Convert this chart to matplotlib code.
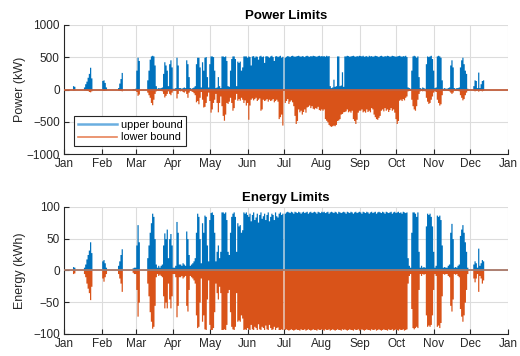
import matplotlib
matplotlib.use('Agg')
import matplotlib.pyplot as plt
from matplotlib.lines import Line2D
import numpy as np

plt.rcParams['font.family'] = ['Liberation Sans', 'DejaVu Sans']

# daily peak values (Jan 1 .. Dec 31), one line per month
power_upper = [
    0, 0, 0, 0, 0, 0, 0, 60, 50, 0, 0, 0, 0, 0, 0, 0, 40, 90, 130, 190, 250, 345, 180, 0, 0, 0, 0, 0, 0, 0, 0,
    140, 150, 110, 40, 0, 0, 0, 0, 0, 0, 0, 0, 0, 30, 100, 170, 265, 0, 0, 0, 0, 0, 0, 0, 0, 15, 15, 20,
    300, 500, 450, 0, 0, 0, 0, 0, 0, 150, 300, 470, 520, 530, 520, 380, 60, 20, 30, 25, 30, 40, 250, 430, 380, 300, 60, 400, 460, 350, 20,
    20, 30, 500, 380, 30, 30, 20, 30, 40, 30, 460, 400, 200, 30, 20, 30, 40, 60, 400, 500, 500, 350, 40, 430, 300, 500, 510, 200, 40, 400,
    520, 520, 510, 300, 30, 40, 200, 60, 30, 520, 520, 510, 520, 450, 60, 50, 300, 480, 520, 520, 480, 60, 440, 420, 440, 300, 350, 520, 520, 520, 500,
    520, 510, 380, 520, 525, 500, 520, 515, 470, 520, 530, 510, 520, 420, 520, 525, 515, 500, 520, 530, 510, 450, 520, 525, 510, 520, 530, 500, 515, 0,
    500, 515, 525, 520, 510, 525, 530, 520, 515, 520, 525, 530, 520, 515, 525, 520, 510, 525, 530, 520, 515, 525, 520, 530, 525, 520, 515, 525, 530, 520, 525,
    520, 525, 515, 530, 520, 525, 60, 30, 40, 160, 50, 60, 520, 520, 60, 70, 275, 50, 520, 520, 530, 525, 515, 520, 525, 530, 520, 515, 525, 520, 530,
    525, 520, 530, 515, 520, 525, 510, 530, 520, 525, 515, 520, 530, 525, 520, 510, 525, 530, 520, 515, 525, 520, 530, 525, 515, 520, 530, 525, 520, 515,
    520, 525, 530, 520, 515, 525, 520, 530, 510, 40, 30, 20, 300, 520, 530, 520, 500, 520, 200, 30, 20, 40, 30, 20, 400, 520, 510, 520, 530, 480, 300,
    30, 40, 520, 530, 520, 500, 150, 20, 30, 20, 20, 30, 40, 380, 460, 350, 30, 20, 30, 30, 40, 350, 460, 500, 400, 300, 250, 20, 0, 0,
    0, 0, 60, 150, 140, 30, 270, 30, 90, 140, 150, 0, 0, 0, 0, 0, 0, 0, 0, 0, 0, 0, 0, 0, 0, 0, 0, 0, 0, 0, 0,
]

power_lower = [
    0, 0, 0, 0, 0, 0, 0, -5, -5, 0, 0, 0, 0, 0, 0, 0, -5, -5, -10, -15, -30, -35, -20, 0, 0, 0, 0, 0, 0, 0, 0,
    -10, -15, -10, -5, 0, 0, 0, 0, 0, 0, 0, 0, 0, -5, -10, -15, -20, 0, 0, 0, 0, 0, 0, 0, 0, -5, -5, -10,
    -30, -90, -70, 0, 0, 0, 0, 0, 0, -40, -80, -120, -200, -235, -150, -60, -20, -10, -15, -10, -15, -20, -60, -115, -90, -60, -20, -60, -80, -40, -10,
    -10, -15, -130, -60, -10, -20, -10, -30, -40, -20, -60, -120, -40, -10, -20, -30, -50, -80, -190, -170, -220, -120, -30, -150, -270, -260, -200, -100, -40, -170,
    -350, -300, -200, -150, -60, -200, -345, -200, -100, -250, -400, -475, -380, -200, -215, -180, -120, -200, -320, -280, -150, -60, -165, -140, -165, -120, -150, -200, -160, -240, -200,
    -460, -240, -150, -130, -160, -140, -120, -170, -150, -130, -320, -300, -150, -170, -160, -140, -180, -150, -170, -160, -140, -190, -170, -150, -180, -450, -420, -380, -550, 0,
    -200, -170, -140, -215, -180, -160, -190, -250, -400, -525, -480, -300, -345, -320, -380, -340, -300, -350, -270, -260, -240, -280, -250, -290, -300, -280, -290, -260, -310, -320, -300,
    -320, -300, -450, -475, -500, -540, -560, -570, -560, -550, -560, -540, -480, -470, -450, -380, -370, -345, -340, -330, -300, -345, -330, -350, -320, -450, -480, -525, -460, -350, -320,
    -320, -300, -345, -330, -350, -300, -340, -320, -345, -280, -300, -380, -420, -450, -460, -430, -400, -320, -300, -330, -280, -320, -300, -340, -310, -280, -320, -300, -350, -450,
    -525, -480, -165, -150, -170, -140, -160, -120, -100, -20, -15, -10, -150, -250, -300, -320, -250, -150, -60, -20, -15, -20, -15, -20, -120, -180, -215, -200, -150, -100, -40,
    -20, -30, -150, -200, -240, -220, -80, -10, -15, -10, -10, -15, -20, -40, -60, -40, -10, -15, -10, -15, -20, -80, -120, -160, -140, -80, -40, -10, 0, 0,
    0, 0, -10, -20, -15, -5, -25, -10, -15, -20, -15, 0, 0, 0, 0, 0, 0, 0, 0, 0, 0, 0, 0, 0, 0, 0, 0, 0, 0, 0, 0,
]

energy_upper = [
    0, 0, 0, 0, 0, 0, 0, 6, 5, 0, 0, 0, 0, 0, 0, 0, 5, 10, 18, 25, 32, 45, 28, 0, 0, 0, 0, 0, 0, 0, 0,
    15, 17, 12, 5, 0, 0, 0, 0, 0, 0, 0, 0, 0, 8, 15, 25, 34, 0, 0, 0, 0, 0, 0, 0, 0, 4, 5, 5,
    40, 72, 45, 0, 0, 0, 0, 0, 0, 20, 40, 60, 75, 90, 85, 50, 10, 5, 8, 5, 8, 10, 40, 59, 50, 65, 20, 50, 58, 40, 5,
    5, 8, 77, 60, 10, 10, 8, 12, 10, 8, 62, 50, 25, 8, 10, 12, 15, 20, 60, 90, 85, 50, 12, 75, 60, 87, 85, 40, 15, 80,
    91, 92, 88, 60, 15, 30, 40, 20, 30, 92, 92, 90, 92, 80, 30, 25, 60, 85, 90, 92, 85, 30, 75, 70, 72, 60, 64, 92, 90, 92, 88,
    85, 90, 78, 88, 92, 80, 84, 90, 76, 88, 92, 82, 86, 90, 80, 88, 92, 78, 85, 90, 88, 80, 92, 86, 84, 90, 92, 88, 90, 0,
    90, 92, 93, 92, 91, 93, 92, 90, 93, 92, 91, 93, 92, 90, 92, 93, 91, 92, 93, 90, 92, 93, 91, 92, 93, 92, 90, 93, 92, 91, 93,
    92, 93, 91, 92, 93, 90, 92, 93, 92, 91, 93, 92, 90, 93, 92, 91, 92, 93, 92, 90, 93, 92, 91, 93, 92, 90, 92, 93, 91, 92, 93,
    92, 90, 93, 92, 91, 93, 92, 90, 92, 93, 91, 92, 93, 90, 92, 93, 92, 91, 93, 92, 90, 93, 92, 91, 92, 93, 90, 92, 93, 91,
    92, 93, 91, 92, 90, 93, 92, 91, 92, 20, 8, 5, 60, 92, 92, 90, 85, 92, 30, 5, 8, 5, 6, 5, 70, 90, 88, 90, 85, 70, 30,
    5, 8, 87, 85, 87, 80, 40, 5, 6, 5, 5, 8, 10, 60, 74, 50, 5, 6, 5, 8, 10, 55, 65, 72, 60, 45, 30, 5, 0, 0,
    0, 0, 10, 15, 12, 5, 35, 8, 12, 17, 15, 0, 0, 0, 0, 0, 0, 0, 0, 0, 0, 0, 0, 0, 0, 0, 0, 0, 0, 0, 0,
]

energy_lower = [
    0, 0, 0, 0, 0, 0, 0, -5, -4, 0, 0, 0, 0, 0, 0, 0, -5, -10, -20, -28, -35, -46, -25, 0, 0, 0, 0, 0, 0, 0, 0,
    -12, -17, -10, -5, 0, 0, 0, 0, 0, 0, 0, 0, 0, -5, -12, -20, -33, 0, 0, 0, 0, 0, 0, 0, 0, -3, -5, -5,
    -30, -72, -50, 0, 0, 0, 0, 0, 0, -20, -40, -65, -80, -91, -88, -55, -10, -5, -8, -6, -8, -10, -40, -59, -50, -59, -20, -45, -59, -40, -5,
    -5, -10, -73, -55, -10, -10, -8, -12, -10, -8, -55, -64, -30, -8, -10, -12, -15, -20, -70, -90, -88, -50, -12, -80, -70, -92, -93, -45, -15, -85,
    -93, -93, -90, -65, -20, -35, -45, -25, -35, -93, -93, -92, -93, -85, -35, -30, -65, -88, -92, -93, -88, -35, -80, -78, -80, -70, -75, -93, -92, -93, -90,
    -92, -93, -85, -92, -93, -88, -90, -93, -84, -92, -93, -88, -90, -93, -86, -92, -93, -85, -90, -93, -92, -88, -93, -90, -89, -93, -93, -92, -93, 0,
    -93, -92, -93, -94, -93, -92, -93, -94, -93, -92, -93, -93, -94, -92, -93, -93, -92, -94, -93, -92, -93, -94, -93, -92, -93, -93, -94, -92, -93, -93, -92,
    -93, -94, -92, -93, -93, -92, -94, -93, -92, -93, -94, -93, -92, -93, -93, -94, -92, -93, -92, -93, -94, -93, -92, -93, -93, -94, -92, -93, -93, -92, -94,
    -93, -92, -93, -94, -93, -92, -93, -93, -94, -92, -93, -93, -92, -94, -93, -92, -93, -94, -93, -92, -93, -93, -94, -92, -93, -93, -92, -94, -93, -92,
    -93, -94, -92, -93, -93, -92, -94, -93, -92, -20, -8, -5, -60, -90, -92, -90, -88, -90, -30, -5, -8, -5, -6, -5, -70, -88, -86, -88, -85, -70, -30,
    -5, -8, -88, -86, -90, -82, -40, -5, -6, -5, -5, -8, -10, -55, -64, -45, -5, -6, -5, -8, -10, -60, -72, -80, -70, -50, -30, -5, 0, 0,
    0, 0, -12, -18, -12, -5, -33, -8, -12, -20, -15, 0, 0, 0, 0, 0, 0, 0, 0, 0, 0, 0, 0, 0, 0, 0, 0, 0, 0, 0, 0,
]

month_labels = ['Jan', 'Feb', 'Mar', 'Apr', 'May', 'Jun', 'Jul', 'Aug', 'Sep', 'Oct', 'Nov', 'Dec', 'Jan']
month_starts = [0, 31, 59, 90, 120, 151, 181, 212, 243, 273, 304, 334, 365]

blue = '#0072BD'
orange = '#D95319'
dark = '#262626'

fig = plt.figure(figsize=(5.2, 3.56), dpi=100)
ax1 = fig.add_axes([0.123, 0.567, 0.854, 0.363])
ax2 = fig.add_axes([0.123, 0.062, 0.854, 0.357])


def draw_limits(ax, upper, lower, zero_color):
    edges = np.arange(len(upper) + 1)
    up = np.append(upper, upper[-1])
    lo = np.append(lower, lower[-1])
    ax.fill_between(edges, 0, up, step='post', color=blue, lw=0)
    ax.fill_between(edges, 0, lo, step='post', color=orange, lw=0)
    ax.axhline(0, color=zero_color, lw=1.3, zorder=3)
    ax.set_xlim(0, 365)
    ax.set_xticks(month_starts)
    ax.set_xticklabels(month_labels)
    ax.grid(True, color='#dcdcdc', lw=0.8)
    ax.set_axisbelow(True)
    for s in ['top', 'right']:
        ax.spines[s].set_visible(False)
    for s in ['left', 'bottom']:
        ax.spines[s].set_color(dark)
        ax.spines[s].set_linewidth(0.8)
    ax.tick_params(direction='in', length=3.5, width=0.8, colors=dark, labelsize=8.5, pad=3)


draw_limits(ax1, power_upper, power_lower, '#c25f3d')
ax1.set_ylim(-1000, 1000)
ax1.set_yticks([-1000, -500, 0, 500, 1000])
ax1.set_title('Power Limits', fontsize=9.5, fontweight='bold', color='black', pad=4)
ax1.set_ylabel('Power (kW)', fontsize=9, color=dark)
ax1.yaxis.set_label_coords(-0.085, 0.5)

handles = [Line2D([], [], color='#6aaee0', lw=1.8), Line2D([], [], color='#e8845a', lw=1.2)]
leg = ax1.legend(handles, ['upper bound', 'lower bound'], loc='lower left',
                 bbox_to_anchor=(0.0225, 0.062), borderaxespad=0, fontsize=7.8,
                 handlelength=3.6, handletextpad=0.35, labelspacing=0.2, borderpad=0.35,
                 fancybox=False, framealpha=1)
leg.get_frame().set_edgecolor(dark)
leg.get_frame().set_linewidth(0.8)

draw_limits(ax2, energy_upper, energy_lower, '#a87868')
ax2.set_ylim(-100, 100)
ax2.set_yticks([-100, -50, 0, 50, 100])
ax2.set_title('Energy Limits', fontsize=9.5, fontweight='bold', color='black', pad=4)
ax2.set_ylabel('Energy (kWh)', fontsize=9, color=dark)
ax2.yaxis.set_label_coords(-0.085, 0.5)

fig.savefig('out.png', dpi=100)
